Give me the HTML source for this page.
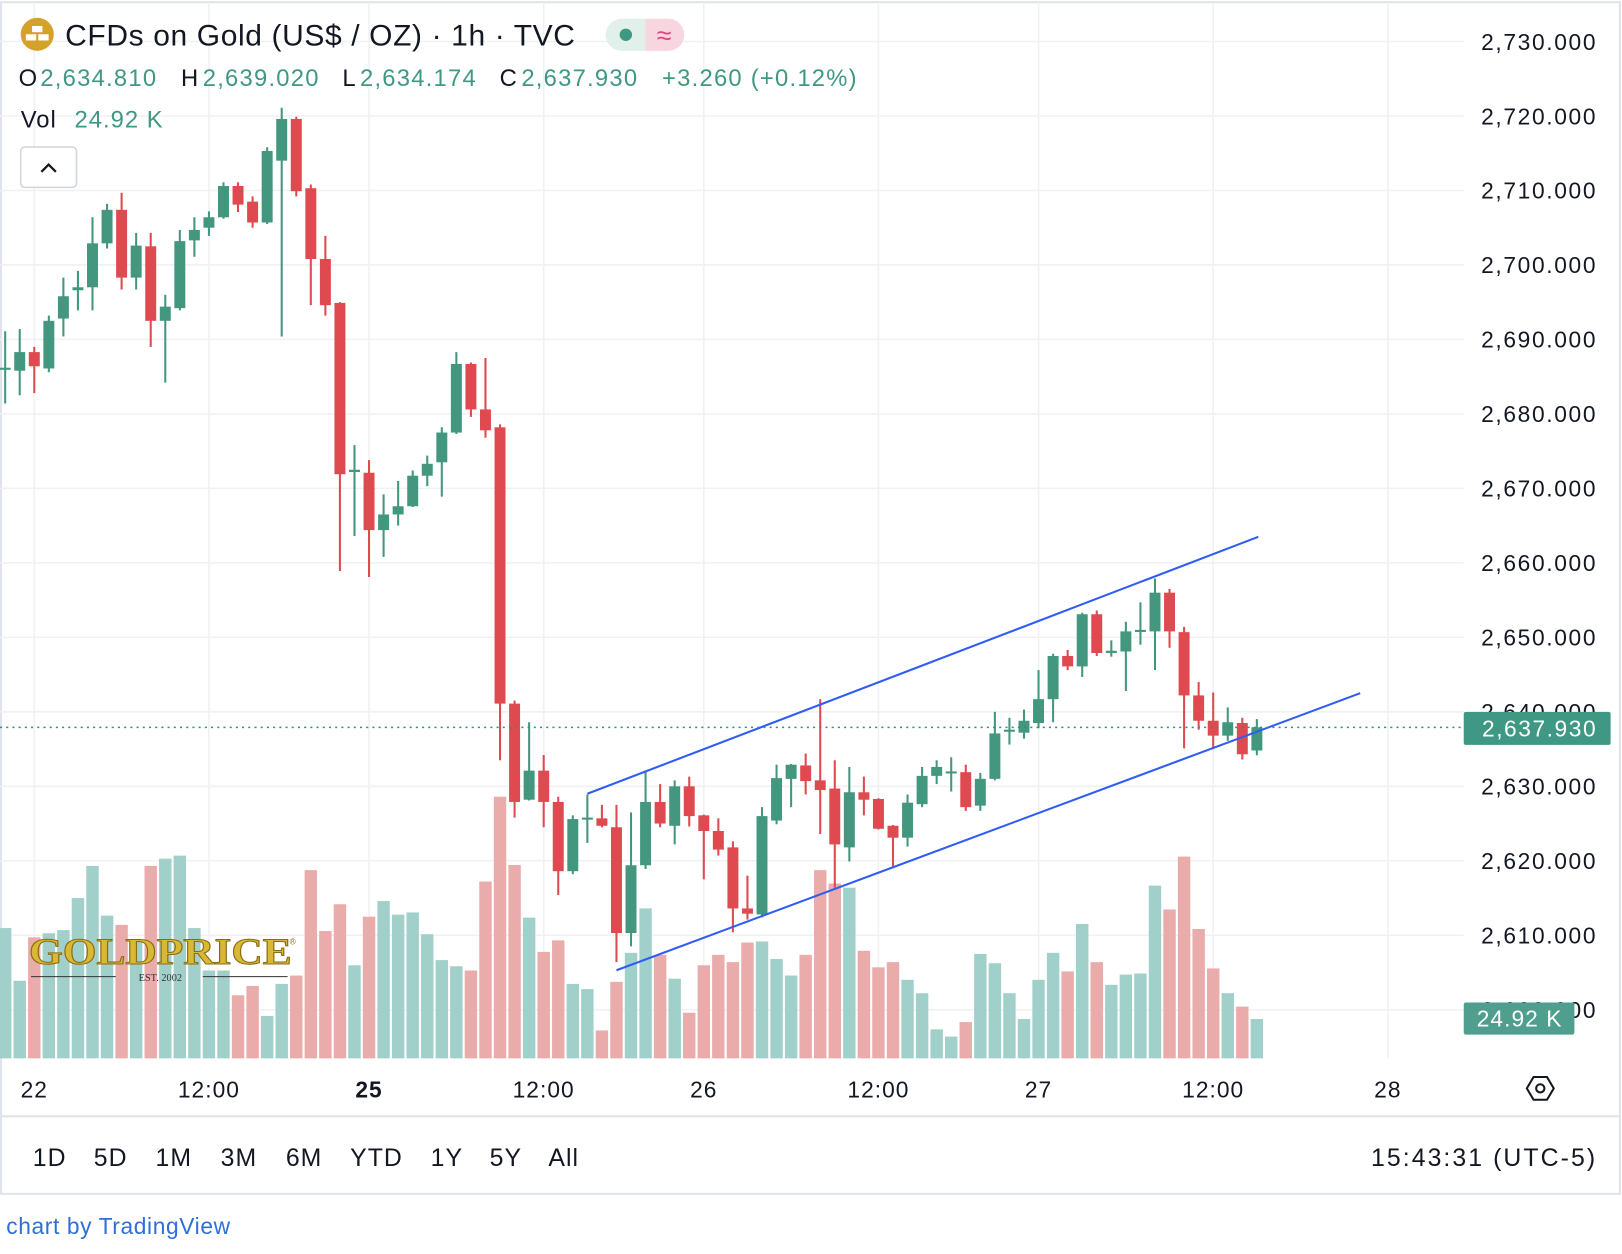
<!DOCTYPE html>
<html><head><meta charset="utf-8">
<style>
html,body{margin:0;padding:0;background:#fff;}
svg{display:block;font-family:"Liberation Sans",sans-serif;}
</style></head>
<body>
<svg id="chart" width="1622" height="1254" viewBox="0 0 1568 1212" xmlns="http://www.w3.org/2000/svg">
  <rect x="1" y="2" width="1565" height="1152" fill="#fff" stroke="#e0e3eb" stroke-width="2"/>
  <g id="grid"></g>
  <g id="vols"></g>
  <g>
    <text x="28" y="932" textLength="254" lengthAdjust="spacingAndGlyphs" font-family="Liberation Serif,serif" font-weight="bold" font-size="36" fill="#d9b836" stroke="#8a6d12" stroke-width="1">GOLDPRICE</text>
    <text x="280" y="913" font-size="8" fill="#8a6d12">®</text>
    <line x1="30" y1="944" x2="112" y2="944" stroke="#333" stroke-width="1"/>
    <line x1="196" y1="944" x2="278" y2="944" stroke="#333" stroke-width="1"/>
    <text x="155" y="948" text-anchor="middle" font-family="Liberation Serif,serif" font-size="10" fill="#333">EST. 2002</text>
  </g>
  <g id="candles"></g>
  <g id="trend"></g>
  <line x1="0" y1="703" x2="1415" y2="703" stroke="#26957c" stroke-width="1.5" stroke-dasharray="2,4"/>
  <g id="yaxis"></g>
  <rect x="1415" y="688" width="142" height="32" rx="2" fill="#3f9883"/>
  <text x="1544" y="712" text-anchor="end" font-size="22" letter-spacing="1.5" fill="#fff">2,637.930</text>
  <rect x="1415" y="969" width="107" height="31" rx="2" fill="#4f9e8e"/>
  <text x="1469" y="992" text-anchor="middle" font-size="22" letter-spacing="1" fill="#fff">24.92 K</text>
  <g id="xaxis"></g>
  <g transform="translate(1489,1052)">
    <polygon points="-13,0 -6.5,-11 6.5,-11 13,0 6.5,11 -6.5,11" fill="none" stroke="#131722" stroke-width="2"/>
    <circle r="4" fill="none" stroke="#131722" stroke-width="2"/>
  </g>
  <line x1="1" y1="1079" x2="1566" y2="1079" stroke="#e0e3eb" stroke-width="2"/>
  <g font-size="24" fill="#131722" text-anchor="middle" letter-spacing="1">
    <text x="48" y="1127">1D</text>
    <text x="107" y="1127">5D</text>
    <text x="168" y="1127">1M</text>
    <text x="231" y="1127">3M</text>
    <text x="294" y="1127">6M</text>
    <text x="364" y="1127">YTD</text>
    <text x="432" y="1127">1Y</text>
    <text x="489" y="1127">5Y</text>
    <text x="545" y="1127">All</text>
  </g>
  <text x="1544" y="1127" text-anchor="end" font-size="24" letter-spacing="2" fill="#131722">15:43:31 (UTC-5)</text>
  <text x="6" y="1193" font-size="22" letter-spacing="0.6" fill="#2e6fd8">chart by TradingView</text>
  <!-- header -->
  <g>
    <circle cx="36" cy="33" r="16" fill="#d4a12a"/>
    <rect x="31" y="25" width="10" height="6" fill="#fff"/>
    <rect x="25" y="33" width="10" height="6" fill="#fff"/>
    <rect x="37" y="33" width="10" height="6" fill="#fff"/>
  </g>
  <text x="63" y="44" font-size="29" letter-spacing="0.6" fill="#131722">CFDs on Gold (US$ / OZ) · 1h · TVC</text>
  <g>
    <path d="M601,18 H624 V49 H601 A15.5,15.5 0 0 1 601,18 Z" fill="#e1f0eb"/>
    <path d="M624,18 H646 A15.5,15.5 0 0 1 646,49 H624 Z" fill="#f7d6e0"/>
    <circle cx="605" cy="33.5" r="6" fill="#3f9883"/>
    <text x="642" y="43" text-anchor="middle" font-size="26" fill="#e0447a">≈</text>
  </g>
  <g font-size="23" letter-spacing="1.2">
    <text x="18" y="83" fill="#131722">O</text><text x="39" y="83" fill="#3f9883">2,634.810</text>
    <text x="175" y="83" fill="#131722">H</text><text x="196" y="83" fill="#3f9883">2,639.020</text>
    <text x="331" y="83" fill="#131722">L</text><text x="348" y="83" fill="#3f9883">2,634.174</text>
    <text x="483" y="83" fill="#131722">C</text><text x="504" y="83" fill="#3f9883">2,637.930</text>
    <text x="640" y="83" fill="#3f9883">+3.260 (+0.12%)</text>
  </g>
  <text x="20" y="123" font-size="23" letter-spacing="1"><tspan fill="#131722">Vol</tspan><tspan fill="#3f9883" x="72">24.92 K</tspan></text>
  <g>
    <rect x="20" y="142" width="54" height="39" rx="4" fill="#fff" stroke="#d1d4dc" stroke-width="1.5"/>
    <polyline points="40,166 47,159 54,166" fill="none" stroke="#131722" stroke-width="2.2"/>
  </g>
</svg>
<script>
const opens=[2686.0,2685.8,2688.3,2686.1,2692.8,2696.6,2697.0,2702.9,2707.4,2698.3,2702.5,2692.5,2694.2,2703.3,2705.0,2706.4,2710.6,2708.5,2705.7,2714.0,2719.6,2710.3,2700.8,2694.9,2672.2,2672.1,2664.4,2666.5,2667.6,2671.7,2673.5,2677.5,2686.7,2680.6,2678.2,2641.1,2628.2,2632.1,2627.9,2618.6,2625.6,2625.7,2624.5,2610.3,2619.4,2627.9,2624.7,2630.0,2626.1,2624.0,2621.8,2613.6,2612.8,2625.4,2631.0,2632.8,2630.8,2629.7,2621.8,2629.2,2628.3,2624.7,2623.1,2627.6,2631.4,2631.8,2631.9,2627.4,2631.0,2637.4,2637.2,2638.5,2641.7,2647.5,2646.1,2653.1,2647.9,2648.1,2650.8,2650.8,2656.0,2650.7,2642.2,2638.8,2636.8,2638.5,2634.81];
const highs=[2691.1,2691.4,2689.0,2693.2,2698.3,2699.2,2706.4,2708.2,2709.7,2704.3,2704.3,2696.0,2704.7,2706.4,2707.2,2711.1,2711.1,2709.2,2715.8,2721.1,2719.9,2710.8,2703.9,2695.0,2675.8,2673.8,2669.2,2671.0,2672.4,2674.4,2678.2,2688.3,2686.9,2687.5,2678.6,2641.5,2638.6,2634.2,2628.6,2626.1,2628.9,2627.5,2627.5,2626.5,2632.1,2630.3,2630.8,2631.3,2626.2,2625.7,2622.6,2618.0,2627.2,2632.9,2633.0,2634.4,2641.7,2633.5,2632.6,2631.3,2628.4,2624.8,2628.9,2632.6,2633.5,2633.9,2632.9,2631.8,2640.0,2639.2,2640.3,2645.6,2647.8,2648.3,2653.3,2653.6,2649.6,2652.1,2654.7,2657.9,2656.5,2651.4,2644.0,2642.6,2640.6,2639.2,2639.02];
const lows=[2681.4,2682.5,2682.8,2685.6,2690.4,2693.9,2693.9,2702.2,2696.7,2696.7,2689.0,2684.2,2693.9,2701.1,2703.9,2706.2,2707.1,2705.0,2705.5,2690.4,2709.2,2694.6,2693.2,2658.9,2663.6,2658.1,2660.8,2665.0,2667.5,2670.3,2668.9,2677.3,2679.6,2676.8,2633.5,2625.8,2628.1,2624.5,2615.4,2618.2,2622.4,2624.5,2606.4,2608.5,2618.9,2624.5,2622.2,2624.6,2617.5,2620.7,2610.4,2612.1,2612.4,2624.9,2627.2,2628.9,2623.6,2616.4,2619.9,2626.1,2624.2,2619.0,2621.9,2627.2,2630.3,2629.3,2626.7,2626.7,2630.8,2635.6,2636.4,2637.8,2638.6,2645.6,2644.7,2647.5,2647.4,2642.8,2649.0,2645.6,2648.6,2635.1,2637.6,2635.0,2636.1,2633.6,2634.17];
const closes=[2686.2,2688.3,2686.4,2692.5,2695.8,2697.0,2702.9,2707.4,2698.3,2702.6,2692.5,2694.4,2703.2,2704.7,2706.4,2710.6,2708.1,2705.7,2715.3,2719.6,2709.9,2700.8,2694.6,2671.9,2672.5,2664.4,2666.5,2667.6,2671.7,2673.3,2677.5,2686.7,2680.6,2677.8,2641.1,2627.9,2632.1,2627.9,2618.6,2625.6,2625.8,2624.7,2610.3,2619.4,2627.9,2625.0,2630.0,2626.0,2624.0,2621.5,2613.6,2612.9,2626.0,2631.1,2632.9,2630.7,2629.5,2622.2,2629.2,2628.2,2624.3,2623.1,2627.8,2631.4,2632.6,2632.0,2627.2,2631.0,2637.1,2637.6,2638.8,2641.7,2647.5,2646.1,2653.1,2647.9,2648.2,2650.8,2651.0,2656.0,2650.8,2642.2,2638.8,2636.8,2638.6,2634.3,2637.93];
const volumes=[82.6,49.2,76.7,79.3,81.3,101.6,122,90.5,84.6,75.4,122,126.6,128.5,82.6,55.7,55.7,40,45.9,26.9,47.2,52.5,119.3,80.7,97.7,59,89.8,99.7,91.1,92.5,78.7,62.3,58.4,55.7,112.1,165.9,122.6,89.2,67.5,74.8,47.2,43.9,17.7,48.5,66.9,95.1,65.6,50.5,28.9,59,65.6,61,73.4,74.1,63,52.5,65.6,119.3,110.8,108.2,68.2,57.7,61,49.8,41.3,18.4,13.8,23,66.2,60.3,41.3,24.9,49.8,66.9,55.1,85.2,61,46.6,53.1,53.8,109.5,94.4,127.9,82,57,41.3,32.8,24.92];
const priceTicks=[2730,2720,2710,2700,2690,2680,2670,2660,2650,2640,2630,2620,2610,2600];
const timeLabels=["22","12:00","25","12:00","26","12:00","27","12:00","28"];
const timeIdx=[2,14,25,37,48,60,71,83,95];
const upperLine=[[40,2629.0],[86.1,2663.5]];
const lowerLine=[[42,2605.3],[93.1,2642.5]];

const NS="http://www.w3.org/2000/svg";
function xI(i){return 5+i*14.07;}
function yP(p){return 40+(2730-p)*7.2;}
function yV(v){return 1023-v*1.525;}
function mk(tag,attrs,parent){const e=document.createElementNS(NS,tag);for(const k in attrs)e.setAttribute(k,attrs[k]);parent.appendChild(e);return e;}
const G="#43977f",R="#df4a50",GV="#a1d0cb",RV="#eaabab";

const grid=document.getElementById('grid');
priceTicks.forEach(p=>{const l=mk('line',{x1:0,x2:1415,y1:yP(p),y2:yP(p),stroke:'#f0f1f3','stroke-width':1.5},grid);

});
timeIdx.forEach(t=>{const l=mk('line',{x1:xI(t),x2:xI(t),y1:2,y2:1023,stroke:'#f0f1f3','stroke-width':1.5},grid);

});

const vg=document.getElementById('vols');
volumes.forEach((v,i)=>{const up=closes[i]>=opens[i];const r=mk('rect',{x:xI(i)-6,y:yV(v),width:12,height:1023-yV(v),fill:up?GV:RV},vg);

});

const cg=document.getElementById('candles');
opens.forEach((o,i)=>{const c=closes[i];const up=c>=o;const col=up?G:R;const x=xI(i);
const g=mk('g',{},cg);


mk('line',{x1:x,x2:x,y1:yP(highs[i]),y2:yP(lows[i]),stroke:col,'stroke-width':2},g);
const t=yP(Math.max(o,c)),b=yP(Math.min(o,c));
mk('rect',{x:x-5.3,y:t,width:10.6,height:Math.max(2,b-t),fill:col},g);});

const tg=document.getElementById('trend');
[upperLine,lowerLine].forEach((ln,k)=>{const l=mk('line',{x1:xI(ln[0][0]),y1:yP(ln[0][1]),x2:xI(ln[1][0]),y2:yP(ln[1][1]),stroke:'#2f5cf5','stroke-width':2},tg);

});

const ya=document.getElementById('yaxis');
priceTicks.forEach(p=>{const t=mk('text',{x:1544,y:yP(p)+8,'text-anchor':'end','font-size':22,'letter-spacing':1.6,fill:'#131722'},ya);
t.textContent=p.toLocaleString('en-US',{minimumFractionDigits:3});

});

const xa=document.getElementById('xaxis');
timeLabels.forEach((s,k)=>{const t=mk('text',{x:xI(timeIdx[k]),y:1061,'text-anchor':'middle','font-size':22,'letter-spacing':1,fill:'#131722'},xa);
if(s==="25")t.setAttribute('font-weight','bold');
t.textContent=s;

});
</script>
</body></html>
